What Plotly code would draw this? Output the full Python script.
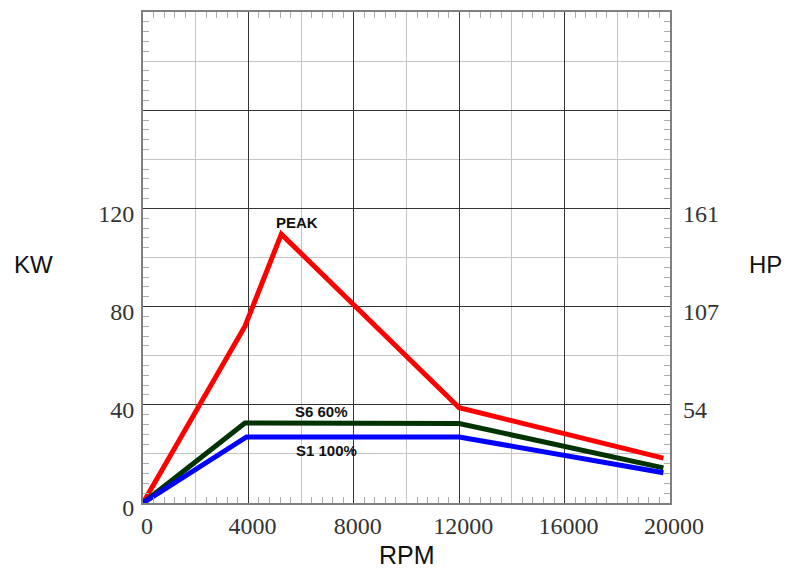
import plotly.graph_objects as go

# ---- data ----
rpm_peak = [0, 3870, 5250, 12000, 19750]
kw_peak = [0, 72, 109.5, 38.8, 18.3]
rpm_s6 = [0, 3870, 12000, 19750]
kw_s6 = [0, 32.6, 32.4, 14.3]
rpm_s1 = [0, 3930, 12000, 19750]
kw_s1 = [0, 26.9, 26.9, 12.3]

x_ticks = [0, 4000, 8000, 12000, 16000, 20000]
x_tick_text = ["0", "4000", "8000", "12000", "16000", "20000"]
kw_ticks = [0, 40, 80, 120, 160, 200]
kw_tick_text = ["0", "40", "80", "120", "", ""]
hp_ticks = [40, 80, 120]
hp_tick_text = ["54", "107", "161"]

labels = [
    ("PEAK", 5860, 114.3),
    ("S6 60%", 6760, 37.4),
    ("S1 100%", 6950, 21.5),
]

# small inside tick marks (not on grid lines)
x_small_ticks = [v for v in range(0, 20001, 400) if v % 2000 != 0]
y_small_ticks = [v for v in range(0, 201, 4) if v % 20 != 0]

tick_font = dict(family="Liberation Serif", size=24, color="#333333")
sans = "Liberation Sans, Arial, sans-serif"

fig = go.Figure()
fig.add_trace(go.Scatter(x=rpm_peak, y=kw_peak, mode="lines",
                         line=dict(color="#ff0000", width=5), name="PEAK"))
fig.add_trace(go.Scatter(x=rpm_s6, y=kw_s6, mode="lines",
                         line=dict(color="#003300", width=5), name="S6 60%"))
fig.add_trace(go.Scatter(x=rpm_s1, y=kw_s1, mode="lines",
                         line=dict(color="#0000ff", width=5), name="S1 100%"))
# helper traces so the overlay axes exist
fig.add_trace(go.Scatter(x=[None], y=[None], xaxis="x2", yaxis="y3",
                         showlegend=False, hoverinfo="skip"))
fig.add_trace(go.Scatter(x=[None], y=[None], xaxis="x", yaxis="y2",
                         showlegend=False, hoverinfo="skip"))

for text, xv, yv in labels:
    fig.add_annotation(x=xv, y=yv, text="<b>%s</b>" % text, showarrow=False,
                       xanchor="center", yanchor="middle",
                       font=dict(family=sans, size=15, color="#111111"))

for text, px, py, sz in [("KW", -0.207, 0.486, 24), ("HP", 1.182, 0.486, 24),
                         ("RPM", 0.500, -0.105, 25)]:
    fig.add_annotation(xref="paper", yref="paper", x=px, y=py, text=text,
                       xanchor="center", yanchor="middle", showarrow=False,
                       font=dict(family=sans, size=sz, color="#111111"))

fig.update_layout(
    width=786, height=569,
    margin=dict(l=143, r=116, t=10, b=66),
    paper_bgcolor="white", plot_bgcolor="white",
    showlegend=False,
    xaxis=dict(range=[0, 20000], tickvals=x_ticks, ticktext=x_tick_text,
               showgrid=True, gridcolor="#333333", gridwidth=1.2,
               minor=dict(dtick=2000, tick0=0, showgrid=True,
                          gridcolor="#c4c4c4", gridwidth=1, ticks=""),
               ticks="", showline=True, linecolor="#808080", linewidth=2,
               mirror=True, zeroline=False, tickfont=tick_font,
               ticklabelshift=4, ticklabelstandoff=0),
    xaxis2=dict(range=[0, 20000], overlaying="x", anchor="y", side="bottom",
                tickvals=x_small_ticks, ticks="inside", ticklen=6,
                tickcolor="#aaaaaa", tickwidth=1, showticklabels=False,
                showgrid=False, zeroline=False, showline=False, mirror="ticks"),
    yaxis=dict(range=[0, 200], tickvals=kw_ticks, ticktext=kw_tick_text,
               showgrid=True, gridcolor="#333333", gridwidth=1.2,
               minor=dict(dtick=20, tick0=0, showgrid=True,
                          gridcolor="#c4c4c4", gridwidth=1, ticks=""),
               ticks="", showline=True, linecolor="#808080", linewidth=2,
               mirror=True, zeroline=False, tickfont=tick_font,
               ticklabelshift=5, ticklabelstandoff=2),
    yaxis2=dict(range=[0, 200], overlaying="y", side="right", anchor="x",
                tickvals=hp_ticks, ticktext=hp_tick_text, showgrid=False,
                ticks="", zeroline=False, showline=False, tickfont=tick_font,
                ticklabelshift=5, ticklabelstandoff=12),
    yaxis3=dict(range=[0, 200], overlaying="y", anchor="x2", side="left",
                tickvals=y_small_ticks, ticks="inside", ticklen=6,
                tickcolor="#aaaaaa", tickwidth=1, showticklabels=False,
                showgrid=False, zeroline=False, showline=False, mirror="ticks"),
)

fig.write_html("out.html", config={"displayModeBar": False},
               post_script="document.body.style.margin='0px';")
